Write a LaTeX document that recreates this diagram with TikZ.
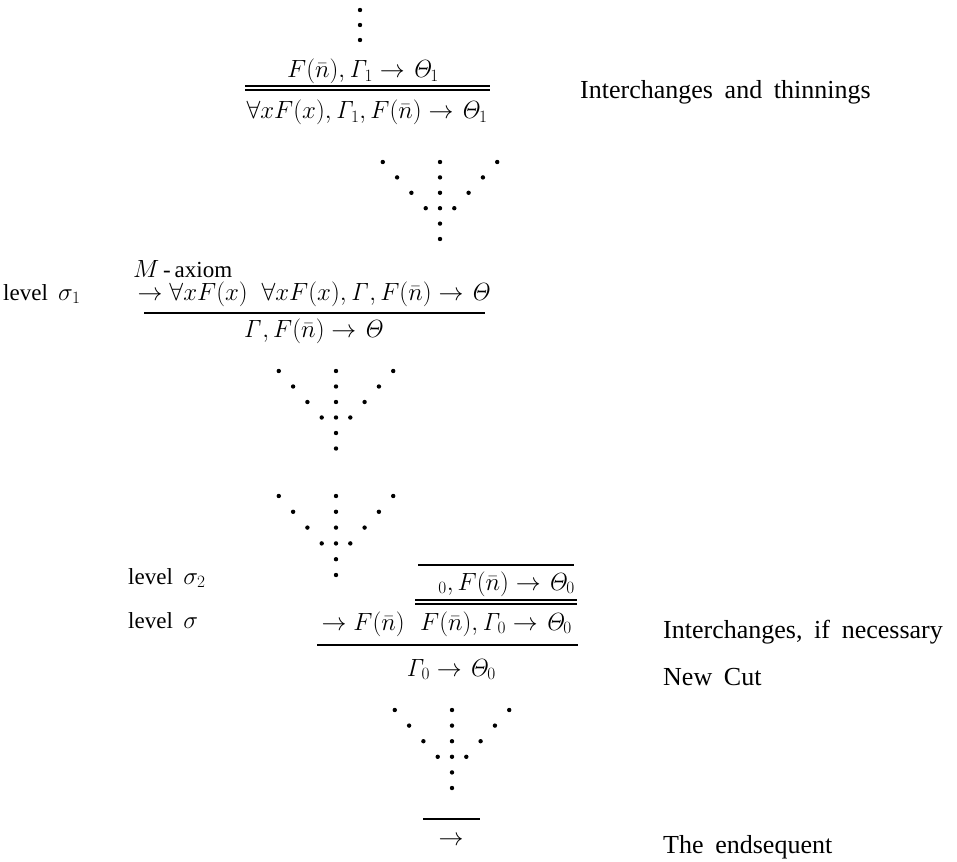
\documentclass[tikz,border=0pt]{standalone}
\usepackage[no-math]{fontspec}
\setmainfont{Liberation Serif}
\newcommand\wsp{\hspace{0.45em}}
\newcommand\Gm{\mathit{\Gamma}}
\newcommand\Th{\mathit{\Theta}}
% a fan of dots: centre x, y of the top row, row distance
\newcommand\dotfan[3]{%
  \foreach \r in {0,1,2,3}{%
    \fill ({#1-(4-\r)*14.3},{#2+\r*#3}) circle (2.2);
    \fill ({#1},{#2+\r*#3}) circle (2.2);
    \fill ({#1+(4-\r)*14.3},{#2+\r*#3}) circle (2.2);
  }
  \fill ({#1},{#2+4*#3}) circle (2.2);
  \fill ({#1},{#2+5*#3}) circle (2.2);
}
\begin{document}
\begin{tikzpicture}[x=1pt,y=-1pt,
  seq/.style={inner sep=0pt,anchor=base,font=\fontsize{24}{30}\selectfont},
  lbl/.style={inner sep=0pt,anchor=base west,font=\fontsize{23}{28}\selectfont},
  note/.style={inner sep=0pt,anchor=base west,font=\fontsize{26}{30}\selectfont},
  infline/.style={line width=1.6pt},
  dblline/.style={line width=1.3pt}]
\useasboundingbox (0,0) rectangle (957,861);

% upper part of the proof
\fill (360,10) circle (2.2);
\fill (360,25) circle (2.2);
\fill (360,40) circle (2.2);
\node[seq] (s1) at (363,78) {$F(\bar n),\Gm_1\to\Th_1$};
\draw[dblline] (245,86) -- (490,86);
\draw[dblline] (245,90) -- (490,90);
\node[seq] (s2) at (367,119) {$\forall xF(x),\Gm_1,F(\bar n)\to\Th_1$};
\node[note] (l1) at (580,99) {Interchanges\wsp and\wsp thinnings};

\dotfan{440}{162}{15.4}

% the M-axiom and the cut at level sigma_1
\node[lbl] (max) at (133,277) {$M$\,-\,axiom};
\node[lbl] (lv1) at (3,300) {level\wsp$\sigma_1$};
\node[seq] (s3) at (314.5,300) {$\to\forall xF(x)\;\;\forall xF(x),\Gm,F(\bar n)\to\Th$};
\draw[infline] (144,313) -- (485,313);
\node[seq] (s4) at (314,337) {$\Gm,F(\bar n)\to\Th$};

\dotfan{336}{371}{15.5}
\dotfan{336}{496}{15.8}

% the new cut at level sigma
\node[lbl] (lv2) at (128,584) {level\wsp$\sigma_2$};
\node[lbl] (lv) at (128,628) {level\wsp$\sigma$};
\draw[infline] (418,565) -- (574,565);
\node[seq,anchor=base east] (s5) at (575,590) {${}_0,F(\bar n)\to\Th_0$};
\draw[dblline] (415,600) -- (577,600);
\draw[dblline] (415,604) -- (577,604);
\node[seq] (s6) at (496,630) {$F(\bar n),\Gm_0\to\Th_0$};
\node[seq,anchor=base east] (s7) at (405,630) {$\to F(\bar n)$};
\node[note] (l2) at (663,638) {Interchanges,\wsp if\wsp necessary};
\draw[infline] (317,645) -- (578,645);
\node[seq] (s8) at (451,676) {$\Gm_0\to\Th_0$};
\node[note] (l3) at (663,685) {New\wsp Cut};

\dotfan{452}{710}{15.6}

% the endsequent
\draw[infline] (423,819) -- (480,819);
\node[seq] (s9) at (451,845) {$\to$};
\node[note] (l4) at (663,853) {The\wsp endsequent};
\end{tikzpicture}
\end{document}
